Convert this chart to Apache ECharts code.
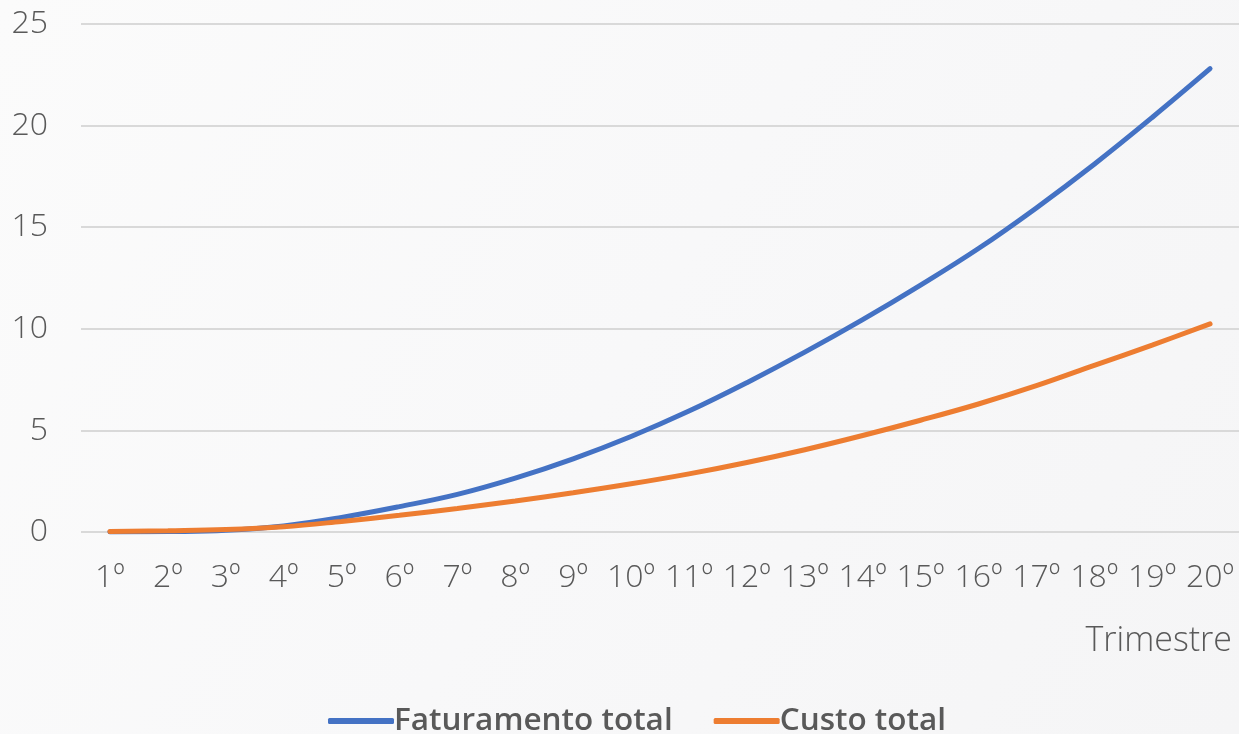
<!DOCTYPE html>
<html>
<head>
<meta charset="utf-8">
<script src="https://cdn.jsdelivr.net/npm/echarts@6/dist/echarts.min.js"></script>
<style>
html,body{margin:0;padding:0;background:#f8f8f9;}
#c{width:1239px;height:734px;}
</style>
</head>
<body>
<div id="c"></div>
<script>
const categories = ['1º','2º','3º','4º','5º','6º','7º','8º','9º','10º','11º','12º','13º','14º','15º','16º','17º','18º','19º','20º'];
const faturamento = [0, 0.02, 0.08, 0.3, 0.72, 1.25, 1.85, 2.65, 3.6, 4.7, 5.95, 7.35, 8.85, 10.45, 12.15, 13.95, 15.95, 18.1, 20.4, 22.8];
const custo = [0.02, 0.06, 0.12, 0.26, 0.52, 0.82, 1.16, 1.53, 1.93, 2.37, 2.86, 3.42, 4.05, 4.75, 5.5, 6.3, 7.2, 8.2, 9.2, 10.24];
const seriesNames = ['Faturamento total', 'Custo total'];
const axisTitle = 'Trimestre';

const chart = echarts.init(document.getElementById('c'));
const fontFam = '"Open Sans", "Noto Sans", sans-serif';
chart.setOption({
  backgroundColor: {
    type: 'linear', x: 0, y: 0, x2: 1, y2: 1,
    colorStops: [{offset: 0, color: '#fbfbfb'}, {offset: 0.5, color: '#f8f8f9'}, {offset: 1, color: '#f5f5f6'}]
  },
  animation: false,
  title: {
    text: axisTitle, right: 2, top: 619,
    textStyle: {fontFamily: fontFam, fontSize: 34, fontWeight: 300, color: '#595959'}
  },
  legend: {
    left: 323, top: 700,
    icon: 'roundRect', itemWidth: 66, itemHeight: 6, itemGap: 41,
    textStyle: {fontFamily: fontFam, fontSize: 31.5, fontWeight: 600, color: '#595959', padding: [0,0,0,-5]},
    data: seriesNames
  },
  grid: {left: 81, right: -7, top: 24, bottom: 202, containLabel: false},
  xAxis: {
    type: 'category', data: categories, boundaryGap: true,
    axisLine: {show: false}, axisTick: {show: false},
    axisLabel: {fontFamily: fontFam, fontSize: 32, fontWeight: 300, color: '#595959', margin: 30, interval: 0}
  },
  yAxis: {
    type: 'value', min: 0, max: 25, interval: 5,
    axisLine: {show: false}, axisTick: {show: false},
    axisLabel: {fontFamily: fontFam, fontSize: 32, fontWeight: 300, color: '#595959', margin: 33},
    splitLine: {lineStyle: {color: '#d9d9d9', width: 2}}
  },
  series: [
    {name: seriesNames[0], type: 'line', data: faturamento, smooth: 0.4, symbol: 'none',
     lineStyle: {color: '#4472C4', width: 5, cap: 'round'}, itemStyle: {color: '#4472C4'}},
    {name: seriesNames[1], type: 'line', data: custo, smooth: 0.4, symbol: 'none',
     lineStyle: {color: '#ED7D31', width: 5, cap: 'round'}, itemStyle: {color: '#ED7D31'}}
  ]
});
</script>
</body>
</html>
